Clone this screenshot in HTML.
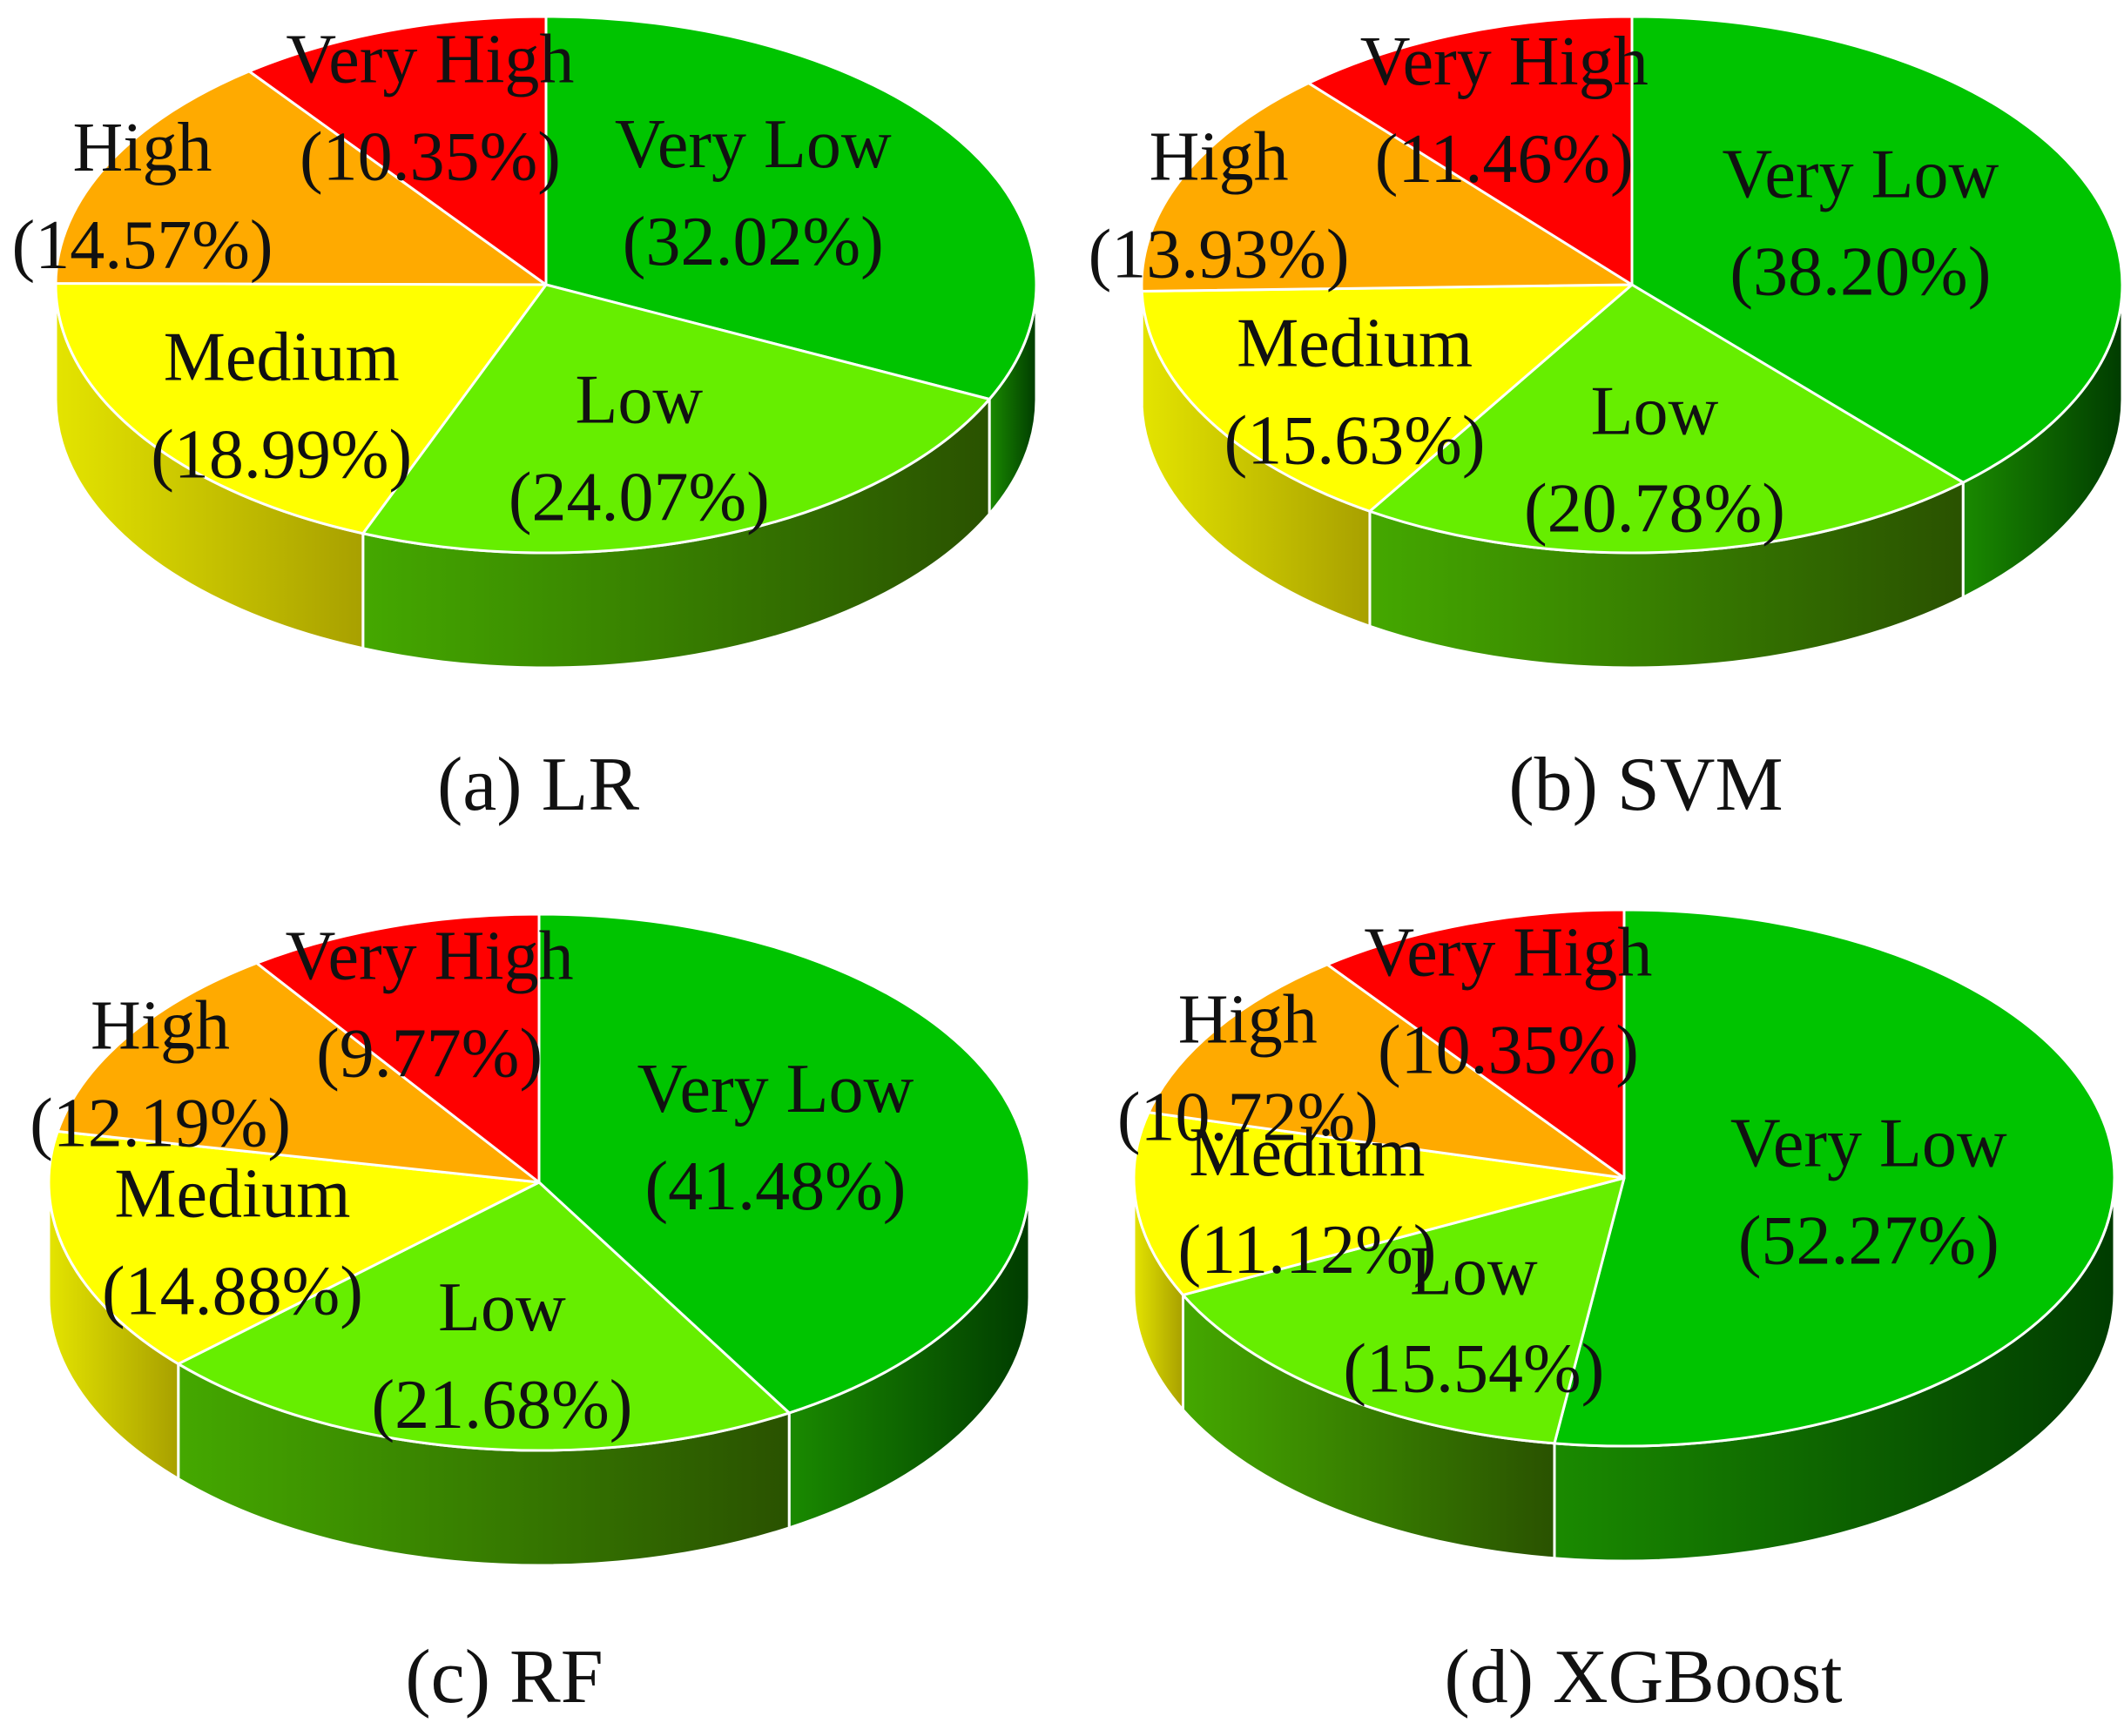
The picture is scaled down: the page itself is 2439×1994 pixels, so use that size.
<!DOCTYPE html>
<html><head><meta charset="utf-8"><style>
html,body{margin:0;padding:0;background:#fff;}
svg{display:block;}
text{font-family:"Liberation Serif",serif;fill:#111;}
</style></head><body>
<svg id="chart" width="2439" height="1994" viewBox="0 0 2439 1994" xmlns="http://www.w3.org/2000/svg">
<defs>
<linearGradient id="gVL" x1="0" x2="1"><stop offset="0" stop-color="#1a8a00"/><stop offset="1" stop-color="#003c00"/></linearGradient>
<linearGradient id="gL" x1="0" x2="1"><stop offset="0" stop-color="#44a800"/><stop offset="1" stop-color="#2a5200"/></linearGradient>
<linearGradient id="gM" x1="0" x2="1"><stop offset="0" stop-color="#e4e400"/><stop offset="1" stop-color="#a8a000"/></linearGradient>
<linearGradient id="gH" x1="0" x2="1"><stop offset="0" stop-color="#d08800"/><stop offset="1" stop-color="#905800"/></linearGradient>
<linearGradient id="gVH" x1="0" x2="1"><stop offset="0" stop-color="#c00000"/><stop offset="1" stop-color="#800000"/></linearGradient>
</defs>
</svg>
<script>
const categories = ["Very Low","Low","Medium","High","Very High"];
const lrValues  = [32.02,24.07,18.99,14.57,10.35];
const svmValues = [38.20,20.78,15.63,13.93,11.46];
const rfValues  = [41.48,21.68,14.88,12.19,9.77];
const xgbValues = [52.27,15.54,11.12,10.72,10.35];
const captions = ["(a) LR","(b) SVM","(c) RF","(d) XGBoost"];

const NS="http://www.w3.org/2000/svg";
const svg=document.getElementById('chart');
const topColors=["#00c400","#66ee00","#ffff00","#ffaa00","#ff0000"];
const sideFills=["url(#gVL)","url(#gL)","url(#gM)","url(#gH)","url(#gVH)"];
const labFX=[0.5,0.52,0.65,0.92,0.74];
const labFY=[0.65,0.65,0.8,0.75,0.7];
const RX=563, RY=308, DEPTH=132;
const panels=[
 {vals:lrValues, cx:627, cy:327, capX:618, capY:930},
 {vals:svmValues, cx:1874, cy:327, capX:1890, capY:930},
 {vals:rfValues, cx:619, cy:1358, capX:579, capY:1955},
 {vals:xgbValues, cx:1865, cy:1353, capX:1887, capY:1955}
];
function mk(tag,attrs,parent){const e=document.createElementNS(NS,tag);for(const k in attrs)e.setAttribute(k,attrs[k]);parent.appendChild(e);return e;}
function pt(p,deg){const r=deg*Math.PI/180;return [p.cx+RX*Math.sin(r), p.cy-RY*Math.cos(r)];}

panels.forEach((p,pi)=>{
  const g=mk('g',{},svg);
  
  
  const total=p.vals.reduce((a,b)=>a+b,0);
  let acc=0; const angles=[];
  p.vals.forEach(v=>{const a=acc/total*360;acc+=v;angles.push([a,acc/total*360]);});
  angles.forEach(([a,b],i)=>{
    const s=Math.max(a,90), e=Math.min(b,270);
    if(e<=s) return;
    const P1=pt(p,s),P2=pt(p,e);
    const d=`M${P1[0]},${P1[1]} A${RX},${RY} 0 0 1 ${P2[0]},${P2[1]} L${P2[0]},${P2[1]+DEPTH} A${RX},${RY} 0 0 0 ${P1[0]},${P1[1]+DEPTH} Z`;
    const side=mk('path',{d:d,fill:sideFills[i],stroke:'#fff','stroke-width':3},g);
    
    
  });
  angles.forEach(([a,b],i)=>{
    const P1=pt(p,a),P2=pt(p,b);
    const large=(b-a)>180?1:0;
    const d=`M${p.cx},${p.cy} L${P1[0]},${P1[1]} A${RX},${RY} 0 ${large} 1 ${P2[0]},${P2[1]} Z`;
    const sl=mk('path',{d:d,fill:topColors[i],stroke:'#fff','stroke-width':3,'stroke-linejoin':'round'},g);
    
    
  });
  angles.forEach(([a,b],i)=>{
    const m=(a+b)/2*Math.PI/180;
    const lx=p.cx+RX*labFX[i]*Math.sin(m);
    const ly=p.cy-RY*labFY[i]*Math.cos(m);
    const t1=mk('text',{x:lx,y:ly-28,'font-size':80,'text-anchor':'middle'},g);
    t1.textContent=categories[i];
    
    
    const t2=mk('text',{x:lx,y:ly+84,'font-size':80,'text-anchor':'middle'},g);
    t2.textContent='('+p.vals[i].toFixed(2)+'%)';
    
    
  });
  const cap=mk('text',{x:p.capX,y:p.capY,'font-size':88,'text-anchor':'middle'},g);
  cap.textContent=captions[pi];
  
  
});
</script>
</body></html>
